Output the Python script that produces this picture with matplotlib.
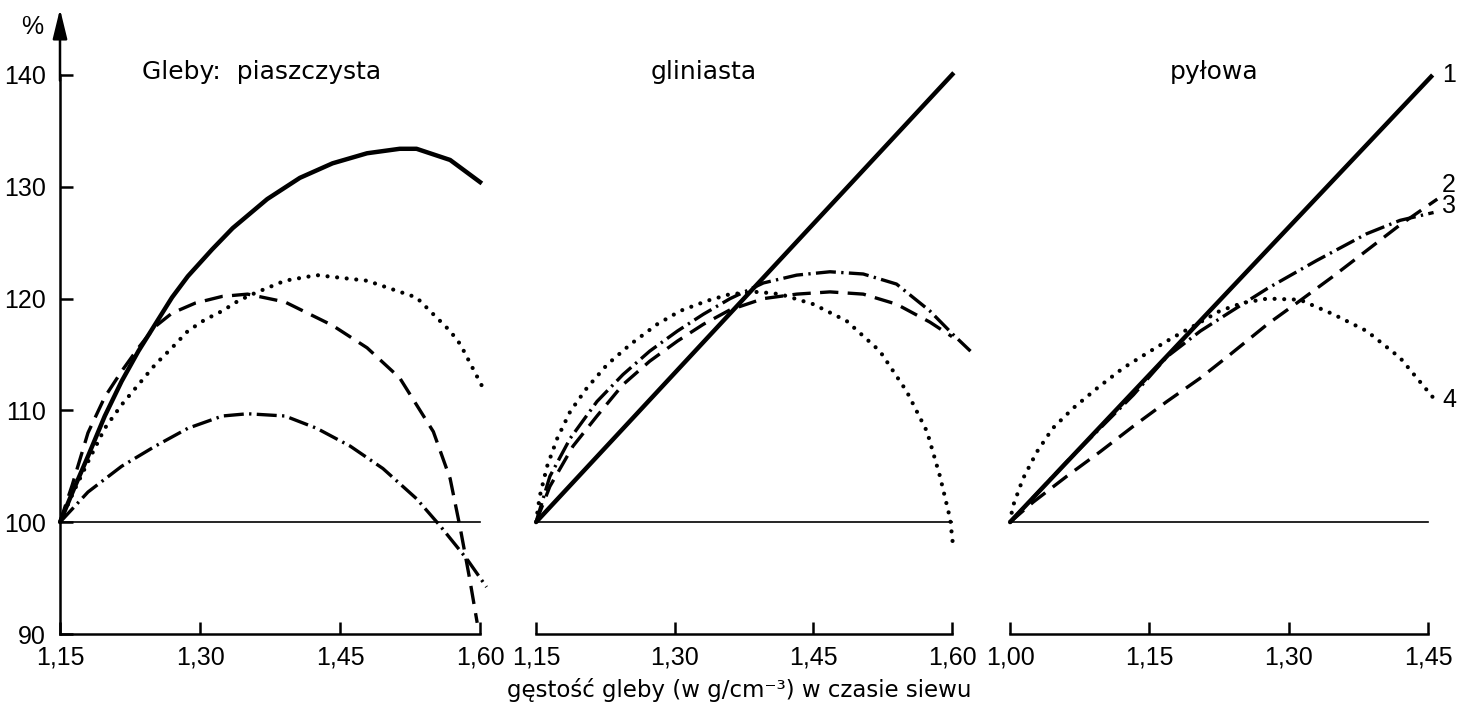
import matplotlib
matplotlib.use("Agg")
import matplotlib.pyplot as plt

# --- data (x = soil density g/cm3, y = % of yield) ---
sand_ticks = [1.15, 1.30, 1.45, 1.60]
sand_labels = ["1,15", "1,30", "1,45", "1,60"]
sand_x1 = [1.15, 1.165, 1.18, 1.198, 1.216, 1.234, 1.252, 1.27, 1.287, 1.313, 1.335, 1.372, 1.407, 1.442, 1.479, 1.514, 1.532, 1.568, 1.602]
sand_y1 = [100, 103.0, 105.9, 109.5, 112.6, 115.3, 117.7, 120.1, 122.0, 124.4, 126.3, 128.9, 130.8, 132.1, 133.0, 133.4, 133.4, 132.4, 130.3]
sand_x2 = [1.15, 1.157, 1.163, 1.18, 1.198, 1.216, 1.234, 1.252, 1.27, 1.295, 1.324, 1.351, 1.391, 1.442, 1.479, 1.514, 1.55, 1.568, 1.579, 1.589, 1.597]
sand_y2 = [100, 101.8, 103.3, 108.0, 111.2, 113.5, 115.6, 117.5, 118.7, 119.6, 120.2, 120.4, 119.7, 117.6, 115.6, 112.9, 108.1, 103.9, 99.4, 94.9, 91.0]
sand_x3 = [1.15, 1.18, 1.216, 1.252, 1.287, 1.324, 1.351, 1.391, 1.425, 1.461, 1.496, 1.532, 1.557, 1.586, 1.607]
sand_y3 = [100, 102.7, 105.0, 106.8, 108.4, 109.5, 109.7, 109.5, 108.4, 106.8, 104.8, 102.1, 99.7, 96.7, 94.2]
sand_x4 = [1.15, 1.165, 1.18, 1.198, 1.216, 1.234, 1.252, 1.27, 1.287, 1.305, 1.324, 1.341, 1.359, 1.391, 1.425, 1.479, 1.532, 1.568, 1.579, 1.602]
sand_y4 = [100, 102.8, 105.4, 108.4, 110.5, 112.3, 114.1, 115.6, 117.1, 118.1, 118.9, 119.8, 120.5, 121.6, 122.1, 121.6, 120.1, 117.1, 115.9, 112.2]

clay_ticks = [1.15, 1.30, 1.45, 1.60]
clay_labels = ["1,15", "1,30", "1,45", "1,60"]
clay_x1 = [1.15, 1.602]
clay_y1 = [100, 140.2]
clay_x2 = [1.15, 1.165, 1.19, 1.216, 1.244, 1.273, 1.303, 1.331, 1.36, 1.396, 1.432, 1.468, 1.504, 1.54, 1.576, 1.60]
clay_y2 = [100, 103.2, 106.8, 109.5, 112.3, 114.4, 116.2, 117.7, 119.0, 120.0, 120.4, 120.6, 120.4, 119.5, 117.9, 116.6]
clay_x3 = [1.15, 1.165, 1.187, 1.216, 1.244, 1.273, 1.303, 1.331, 1.36, 1.396, 1.432, 1.468, 1.504, 1.54, 1.576, 1.601, 1.62]
clay_y3 = [100, 104.1, 107.5, 110.8, 113.2, 115.3, 117.1, 118.6, 120.0, 121.4, 122.1, 122.4, 122.2, 121.3, 118.9, 116.8, 115.3]
clay_x4 = [1.15, 1.154, 1.162, 1.173, 1.187, 1.205, 1.227, 1.252, 1.281, 1.306, 1.335, 1.36, 1.39, 1.414, 1.45, 1.486, 1.522, 1.551, 1.573, 1.587, 1.598, 1.601]
clay_y4 = [100, 102.3, 105.0, 107.5, 109.9, 112.0, 114.1, 115.9, 117.7, 118.9, 119.8, 120.4, 120.6, 120.4, 119.5, 118.0, 115.3, 111.7, 108.1, 104.1, 100.3, 98.0]

silt_ticks = [1.00, 1.15, 1.30, 1.45]
silt_labels = ["1,00", "1,15", "1,30", "1,45"]
silt_x1 = [1.00, 1.455]
silt_y1 = [100, 140]
silt_x2 = [1.00, 1.025, 1.061, 1.097, 1.133, 1.169, 1.205, 1.237, 1.277, 1.312, 1.348, 1.384, 1.42, 1.46]
silt_y2 = [100, 101.8, 104.1, 106.3, 108.6, 110.8, 112.9, 115.0, 117.7, 119.8, 122.0, 124.3, 126.6, 128.9]
silt_x3 = [1.00, 1.061, 1.133, 1.169, 1.205, 1.237, 1.277, 1.33, 1.384, 1.42, 1.456]
silt_y3 = [100, 105.4, 111.4, 114.8, 117.1, 118.8, 120.9, 123.4, 125.8, 127.0, 127.7]
silt_x4 = [1.00, 1.003, 1.014, 1.029, 1.046, 1.068, 1.094, 1.122, 1.151, 1.175, 1.201, 1.226, 1.25, 1.277, 1.312, 1.348, 1.384, 1.42, 1.456]
silt_y4 = [100, 101.4, 103.9, 106.3, 108.4, 110.2, 112.0, 113.8, 115.3, 116.5, 117.7, 118.9, 119.6, 120.0, 119.9, 118.6, 117.1, 114.7, 111.1]

panel_titles = ["Gleby:  piaszczysta", "gliniasta", "pyłowa"]
curve_numbers = ["1", "2", "3", "4"]
curve_number_y = [140, 130.2, 128.3, 110.9]
y_ticks = [90, 100, 110, 120, 130, 140]

plt.rcParams["font.family"] = ["DejaVu Sans"]
NUMFONT = ["Liberation Sans", "DejaVu Sans"]

W, H = 1469, 713
fig = plt.figure(figsize=(W / 100, H / 100), dpi=100)
fig.patch.set_facecolor("white")

Y_BOT, Y_TOP = 634, 75

styles = [
    dict(color="black", lw=3.2, ls="-", solid_capstyle="butt"),
    dict(color="black", lw=2.4, ls=(0, (5.5, 2.8)), dash_capstyle="butt"),
    dict(color="black", lw=2.4, ls=(0, (6, 1.6, 0.7, 1.6)), dash_capstyle="butt"),
    dict(color="black", lw=3.0, ls=(0, (0.01, 2.3)), dash_capstyle="round"),
]

panels = [
    (60, 480, sand_ticks, sand_labels,
     [(sand_x1, sand_y1), (sand_x2, sand_y2), (sand_x3, sand_y3), (sand_x4, sand_y4)]),
    (536, 952, clay_ticks, clay_labels,
     [(clay_x1, clay_y1), (clay_x2, clay_y2), (clay_x3, clay_y3), (clay_x4, clay_y4)]),
    (1010, 1428, silt_ticks, silt_labels,
     [(silt_x1, silt_y1), (silt_x2, silt_y2), (silt_x3, silt_y3), (silt_x4, silt_y4)]),
]

axes = []
for i, (px0, px1, ticks, labels, curves) in enumerate(panels):
    ax = fig.add_axes([px0 / W, (H - Y_BOT) / H, (px1 - px0) / W, (Y_BOT - Y_TOP) / H])
    ax.set_xlim(ticks[0], ticks[-1])
    ax.set_ylim(90, 140)
    ax.patch.set_alpha(0)
    for s in ["top", "right"]:
        ax.spines[s].set_visible(False)
    ax.spines["bottom"].set_linewidth(1.8)
    ax.spines["left"].set_linewidth(1.8)
    ax.set_xticks(ticks)
    ax.set_xticklabels(labels, family=NUMFONT, fontsize=18)
    ax.tick_params(axis="x", direction="in", length=9, width=1.8, pad=8)
    if i == 0:
        ax.set_yticks(y_ticks)
        ax.set_yticklabels([str(v) for v in y_ticks], family=NUMFONT, fontsize=18)
        ax.tick_params(axis="y", direction="in", length=9, width=1.8, pad=10)
        # arrow on top of the y axis
        ax.annotate("", xy=(ticks[0], 145.9), xytext=(ticks[0], 139.5),
                    arrowprops=dict(arrowstyle="-|>,head_length=0.9,head_width=0.22",
                                    lw=1.8, color="black", mutation_scale=20,
                                    shrinkA=0, shrinkB=0),
                    annotation_clip=False)
    else:
        ax.spines["left"].set_visible(False)
        ax.set_yticks([])

    # 100 % reference line
    ax.plot([ticks[0], ticks[-1]], [100, 100], color="black", lw=1.2, clip_on=False)

    for (xs, ys), st in zip(curves, styles):
        ax.plot(xs, ys, clip_on=False, **st)
    axes.append(ax)

# curve numbers at the right of the last panel
for lab, yv in zip(curve_numbers, curve_number_y):
    axes[2].text(1.465, yv, lab, ha="left", va="center", family=NUMFONT, fontsize=18,
                 clip_on=False)

# panel titles
title_x = [262, 704, 1214]
for t, xp in zip(panel_titles, title_x):
    fig.text(xp / W, (H - 79) / H, t, ha="center", va="baseline", fontsize=18)

fig.text(32 / W, (H - 27) / H, "%", ha="center", va="center", family=NUMFONT, fontsize=18)

fig.text(739 / W, (H - 697) / H, "gęstość gleby (w g/cm⁻³) w czasie siewu",
         ha="center", va="baseline", fontsize=16.5)

fig.savefig("out.png", dpi=100, facecolor="white")
